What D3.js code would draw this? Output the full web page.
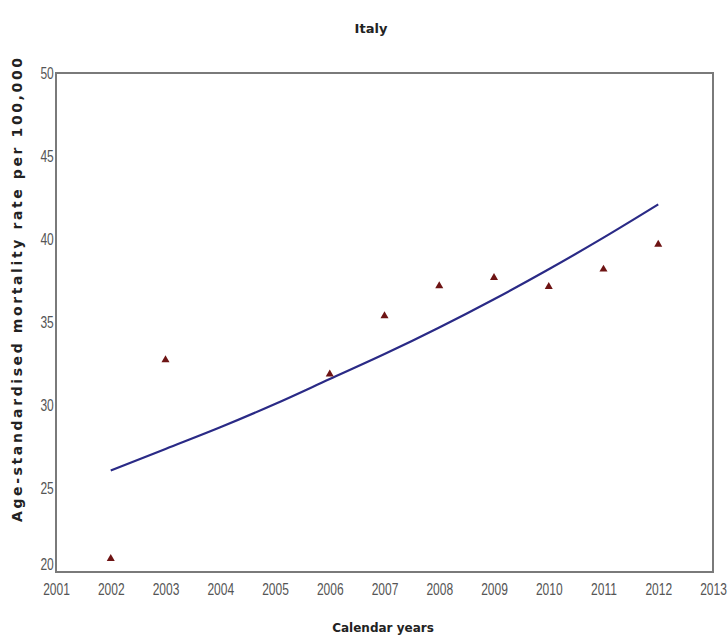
<!DOCTYPE html>
<html><head><meta charset="utf-8">
<script src="https://cdn.jsdelivr.net/npm/d3@7"></script>
<style>body{margin:0;background:#fff}svg{display:block}</style>
</head><body><svg id="c" width="728" height="635"></svg>
<script>
const title = "Italy";
const xLabel = "Calendar years";
const yLabel = "Age-standardised mortality rate per 100,000";
const xTicks = [2001,2002,2003,2004,2005,2006,2007,2008,2009,2010,2011,2012,2013];
const yTicks = [20,25,30,35,40,45,50];
const obsYears = [2002,2003,2006,2007,2008,2009,2010,2011,2012];
const obsRates = [20.8,32.75,31.9,35.4,37.2,37.7,37.15,38.2,39.7];
const fitYears = [2002,2003,2004,2005,2006,2007,2008,2009,2010,2011,2012];
const fitRates = [26.1,27.4,28.7,30.1,31.6,33.1,34.7,36.4,38.2,40.1,42.1];

const svg = d3.select("#c");
const L=56,R=713,T=73,B=572;
const x = d3.scaleLinear().domain([2001,2013]).range([L,R]);
const y = d3.scaleLinear().domain([20,50]).range([B,T]);

svg.append("text").attr("x",371).attr("y",33).attr("text-anchor","middle")
  .attr("font-family","DejaVu Sans").attr("font-weight","bold").attr("font-size",13)
  .attr("fill","#222").text(title);

svg.append("rect").attr("x",L).attr("y",T).attr("width",R-L).attr("height",B-T)
  .attr("fill","none").attr("stroke","#7a7a7a").attr("stroke-width",2);

const tickFont = "'Liberation Sans',Arial,sans-serif";
const ya = svg.append("g").attr("transform",`translate(${L},0)`)
  .call(d3.axisLeft(y).tickValues(yTicks).tickSize(0).tickPadding(3).tickFormat(d3.format("d")));
ya.select(".domain").remove();
ya.selectAll("text").attr("font-family",tickFont).attr("font-size",16).attr("fill","#555")
  .attr("transform",d=>d===20?"translate(0,-8) scale(0.75,1)":"scale(0.75,1)");

const xa = svg.append("g").attr("transform",`translate(0,${B})`)
  .call(d3.axisBottom(x).tickValues(xTicks).tickSize(0).tickPadding(12).tickFormat(d3.format("d")));
xa.select(".domain").remove();
xa.selectAll("text").attr("font-family",tickFont).attr("font-size",16).attr("fill","#555")
  .attr("transform","scale(0.75,1)");

svg.append("text").attr("x",383).attr("y",632).attr("text-anchor","middle")
  .attr("font-family","DejaVu Sans").attr("font-weight","bold").attr("font-size",12)
  .attr("fill","#222").text(xLabel);

svg.append("text").attr("transform","translate(22,290) rotate(-90)").attr("text-anchor","middle")
  .attr("font-family","DejaVu Sans").attr("font-weight","bold").attr("font-size",14)
  .attr("textLength",464).attr("lengthAdjust","spacing")
  .attr("fill","#222").text(yLabel);

const line = d3.line().x(d=>x(d[0])).y(d=>y(d[1])).curve(d3.curveMonotoneX);
svg.append("path").datum(fitYears.map((v,i)=>[v,fitRates[i]]))
  .attr("d",line).attr("fill","none").attr("stroke","#2a2a86").attr("stroke-width",2.2);

const tri = d3.symbol().type(d3.symbolTriangle).size(28);
svg.selectAll(".pt").data(obsYears.map((v,i)=>[v,obsRates[i]])).enter().append("path")
  .attr("d",tri).attr("transform",d=>`translate(${x(d[0])},${y(d[1])})`)
  .attr("fill","#6e1414");
</script></body></html>
